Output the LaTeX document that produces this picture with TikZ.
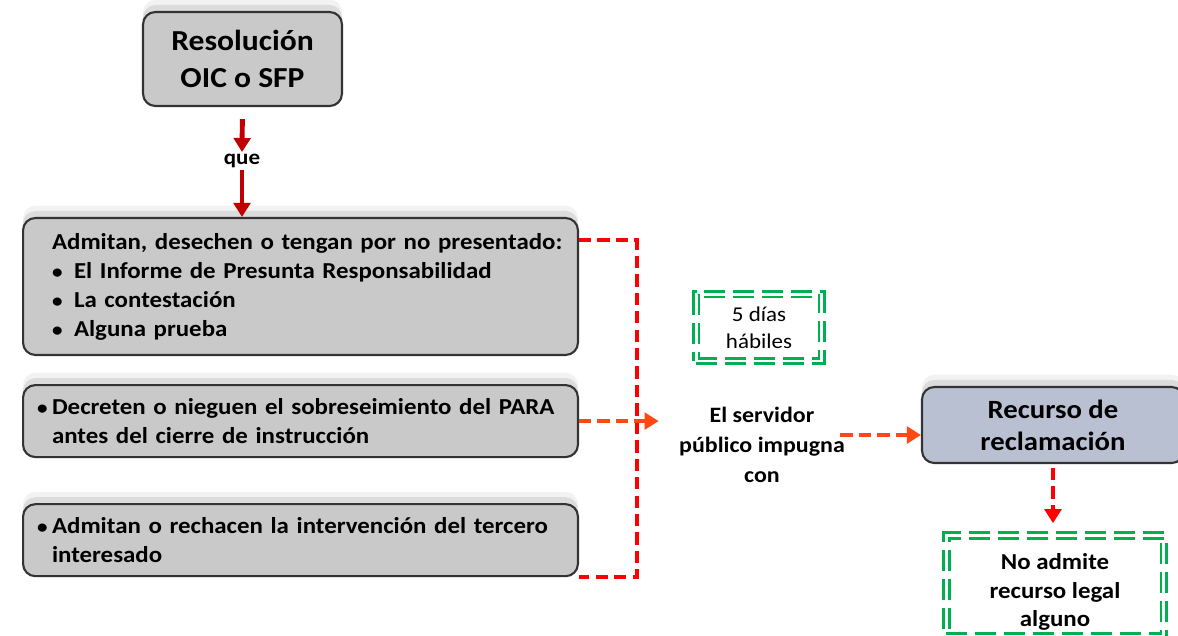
\documentclass[tikz,border=0pt]{standalone}
\usepackage{fontspec}
\setmainfont{Carlito}[FakeStretch=1.09]
\usetikzlibrary{arrows.meta, positioning, shadows}

\definecolor{cajagris}{RGB}{201,201,201}
\definecolor{cajaazul}{RGB}{184,192,209}
\definecolor{rojoosc}{RGB}{192,0,0}
\definecolor{rojo}{RGB}{255,0,0}
\definecolor{naranja}{RGB}{255,72,20}
\definecolor{verde}{RGB}{0,176,80}

\newcommand{\punto}{{\fontsize{11}{11}\selectfont\textbullet}}

\begin{document}
\begin{tikzpicture}[x=0.02cm, y=-0.02cm]
	\tikzset {>={Triangle[width=9.5pt, length=8pt]},
		caja/.style={draw=black!80, line width=1.2pt, rounded corners=7pt, fill=cajagris, inner sep=0pt,
			general shadow={shadow xshift=0pt, shadow yshift=7pt, fill=black, opacity=.05},
			general shadow={shadow xshift=0pt, shadow yshift=4pt, fill=black, opacity=.09}},
		texto/.style={text width=11.1cm, align=left, font=\bfseries\fontsize{13}{16.5}\selectfont},
		nota/.style={draw=verde, double, double distance=1.7pt, line width=1.7pt, dash pattern=on 12pt off 4.5pt, align=center},
		flecha/.style={->, draw=rojoosc, line width=2.8pt},
		discont/.style={line width=2.3pt, dash pattern=on 7pt off 3.5pt}
	}
	\useasboundingbox (0,0) rectangle (1178,636);

	\node[caja, minimum width=3.98cm, minimum height=1.88cm, align=center, font=\bfseries\fontsize{16.5}{21}\selectfont] (res) at (242.5,59) {Resolución\\OIC o SFP};
	\node[font=\bfseries\fontsize{12}{14}\selectfont, inner sep=1pt] (que) at (242,161) {que};

	\node[caja, texto, minimum width=11.1cm, minimum height=2.74cm] (adm) at (300.5,286.5) {\leftskip=0.58cm
		Admitan, desechen o tengan por no presentado:\\
		\makebox[12.5pt][l]{\punto}El Informe de Presunta Responsabilidad\\
		\makebox[12.5pt][l]{\punto}La contestación\\
		\makebox[12.5pt][l]{\punto}Alguna prueba\par};
	\node[caja, texto, minimum width=11.1cm, minimum height=1.44cm, below=0.56cm of adm] (dec) {\leftskip=0.58cm
		\llap{\punto\hspace{2.5pt}}Decreten o nieguen el sobreseimiento del PARA\\
		antes del cierre de instrucción\par};
	\node[caja, texto, minimum width=11.1cm, minimum height=1.44cm, below=0.9cm of dec] (ter) {\leftskip=0.58cm
		\llap{\punto\hspace{2.5pt}}Admitan o rechacen la intervención del tercero\\
		interesado\par};

	\node[nota, minimum width=2.52cm, minimum height=1.34cm, font=\fontsize{12}{15.4}\selectfont] (plazo) at (759,327.5) {5 días\\hábiles};
	\node[align=center, font=\bfseries\fontsize{12.5}{17}\selectfont, inner sep=3pt] (srv) at (762,445) {El servidor\\público impugna\\con};

	\node[caja, fill=cajaazul, minimum width=5.24cm, minimum height=1.52cm, align=center, font=\bfseries\fontsize{15}{18.2}\selectfont] (rec) at (1053,425) {Recurso de\\reclamación};
	\node[nota, minimum width=4.36cm, minimum height=1.68cm, font=\bfseries\fontsize{13}{16.2}\selectfont] (fin) at (1055,586) {\rule{0pt}{16pt}No admite\\recurso legal\\alguno};

	\coordinate (entrada) at ([yshift=-0.2cm]rec.west);

	% flechas
	\draw[flecha, shorten <=0.24cm] (res.south) -- (que.north);
	\draw[flecha] (que.south) -- (que.south |- adm.north);
	\draw[discont, draw=rojo] ([yshift=-0.46cm]adm.north east) -| ([xshift=1.16cm]ter.south east) -- (ter.south east);
	\draw[discont, draw=naranja, ->, shorten >=0.3cm] (dec.east) -- (dec.east -| srv.west);
	\draw[discont, draw=naranja, ->, shorten <=-0.2cm] (srv.east |- entrada) -- (entrada);
	\draw[discont, draw=rojo, ->, shorten <=0.08cm, shorten >=0.22cm] (rec.south) -- (rec.south |- fin.north);
\end{tikzpicture}
\end{document}
